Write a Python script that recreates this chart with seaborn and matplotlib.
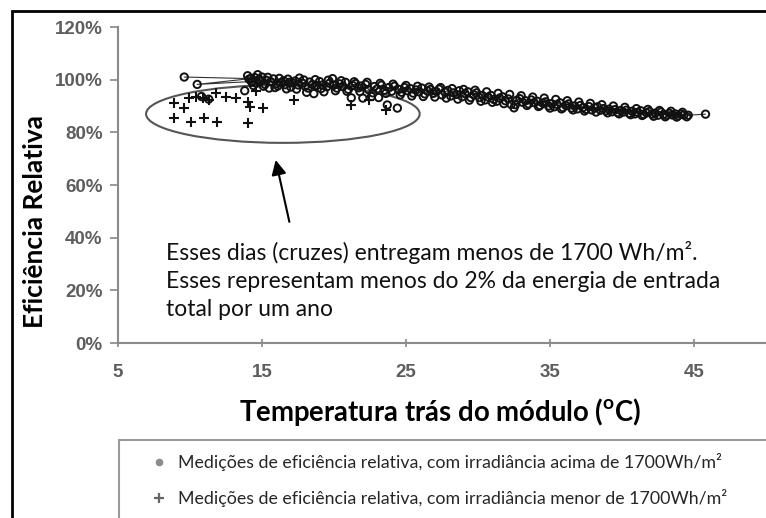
import matplotlib
matplotlib.use("Agg")
import matplotlib.pyplot as plt
from matplotlib.patches import Ellipse, Rectangle
from matplotlib.lines import Line2D
import seaborn as sns
import pandas as pd

# ---------------- data ----------------
# circles joined by the thin series line (in joining order)
temp_circ = [9.6, 14.2, 10.5, 14.3,
             14.0, 14.1, 14.3, 14.5, 14.6, 14.8, 14.9, 15.0, 15.2, 15.3,
             15.6, 15.8, 16.0, 16.1, 16.3, 16.5, 16.6, 16.8, 17.0,
             17.1, 17.3, 17.5, 17.6, 17.8, 18.0, 18.3, 18.5,
             18.8, 19.0, 19.2, 19.5, 19.7, 19.9, 20.0, 20.2, 20.4,
             20.6, 20.8, 21.0, 21.3, 21.5, 21.7, 21.9, 22.2,
             22.4, 22.8, 23.0, 23.3, 23.5, 23.8, 24.0,
             24.2, 24.5, 24.7, 24.9, 25.1, 25.3, 25.5, 25.7, 25.9,
             26.1, 26.3, 26.5, 26.7, 26.9, 27.1, 27.3, 27.5, 27.7, 27.9,
             28.1, 28.3, 28.5, 28.7, 28.9, 29.1, 29.3, 29.5, 29.7, 29.9,
             30.1, 30.3, 30.5, 30.7, 30.9, 31.1, 31.3, 31.5, 31.7, 31.9,
             32.1, 32.3, 32.7, 32.9, 33.1, 33.3, 33.5, 33.7, 33.9,
             34.1, 34.3, 34.5, 34.7, 34.9, 35.1, 35.3, 35.5, 35.7, 35.9,
             36.1, 36.3, 36.5, 36.7, 36.9, 37.1, 37.3, 37.5, 37.7, 37.9,
             38.1, 38.3, 38.5, 38.7, 38.9, 39.1, 39.3, 39.5, 39.7, 39.9,
             40.1, 40.3, 40.5, 40.7, 40.9, 41.1, 41.3, 41.5, 41.7, 41.9,
             42.1, 42.3, 42.5, 42.7, 42.9, 43.1, 43.3, 43.5, 43.7, 43.9,
             44.1, 44.3, 44.6, 45.8]
eff_circ = [101.0, 100.4, 98.2, 99.3,
            101.5, 100.2, 99.0, 100.8, 98.6, 100.1, 99.4, 101.0, 98.2, 99.8,
            99.2, 100.3, 98.5, 97.6, 98.9, 99.6, 98.1, 100.2, 97.2,
            98.8, 99.5, 98.0, 100.6, 98.7, 97.5, 99.1, 98.2,
            97.8, 99.3, 98.0, 97.3, 98.7, 100.4, 97.9, 96.8, 98.4,
            97.4, 99.0, 96.3, 97.8, 98.5, 96.9, 97.6, 98.2,
            96.2, 97.4, 96.5, 97.9, 96.0, 97.0, 95.6,
            97.5, 96.3, 95.2, 97.0, 95.8, 96.6, 94.9, 96.1, 95.4,
            96.8, 94.6, 95.7, 96.3, 94.8, 95.5, 96.4, 94.2, 95.3, 95.9,
            93.8, 95.0, 94.4, 95.8, 93.5, 94.7, 95.4, 93.2, 94.3, 95.0,
            93.2, 94.0, 92.3, 93.4, 94.0, 92.5, 91.8, 93.0, 93.5, 92.0,
            92.7, 90.6, 92.2, 92.8, 91.4, 92.0, 90.8, 92.3, 91.3,
            91.8, 90.2, 91.1, 91.6, 90.0, 90.9, 89.7, 90.6, 91.2, 89.4,
            90.2, 90.8, 89.2, 90.0, 88.9, 90.2, 89.4, 88.7, 89.8, 88.5,
            89.3, 89.7, 88.4, 89.0, 88.2, 88.8, 87.8, 88.6, 87.5, 88.3,
            87.7, 88.4, 87.2, 88.0, 87.0, 87.6, 88.2, 86.8, 87.4, 87.9,
            86.9, 87.3, 86.5, 87.7, 86.9, 86.4, 87.2, 86.6, 87.0, 86.3,
            86.9, 86.6, 86.5, 86.9]

# further circles (not on the joining line): low outliers and band fill
temp_circ_extra = [10.8, 11.3, 13.8, 15.5, 18.1, 18.6, 19.3, 21.2, 22.0, 22.6,
                   23.1, 23.7, 24.4, 32.5,
                   14.4, 14.7, 15.1, 15.4, 15.9, 16.2, 16.7, 16.9, 17.4, 17.9,
                   18.2, 18.7, 19.1, 19.6, 20.1, 20.5, 20.9, 21.4, 21.8, 22.3,
                   22.7, 23.2, 23.6, 24.1, 24.6, 25.0, 25.4, 25.8, 26.2, 26.6,
                   27.0, 27.4, 27.8, 28.2, 28.6, 29.0, 29.4, 29.8, 30.2, 30.6,
                   31.0, 31.4, 31.8, 32.2, 32.6, 33.0, 33.4, 33.8, 34.2, 34.6,
                   35.0, 35.4, 35.8, 36.2, 36.6, 37.0, 37.4, 37.8, 38.2, 38.6,
                   39.0, 39.4, 39.8, 40.2, 40.6, 41.0, 41.4, 41.8, 42.2, 42.6,
                   43.0, 43.4, 43.8, 44.2, 44.5]
eff_circ_extra = [93.6, 92.6, 95.8, 96.8, 95.2, 94.7, 95.4, 93.1, 93.0, 93.6,
                  93.2, 90.4, 89.2, 89.3,
                  97.8, 101.9, 97.5, 100.9, 97.0, 100.5, 96.5, 99.0, 96.4, 99.9,
                  96.8, 100.0, 96.6, 99.8, 95.8, 99.6, 95.6, 99.2, 95.5, 99.0,
                  95.0, 98.6, 94.8, 98.3, 94.2, 97.8, 93.8, 97.5, 93.6, 97.2,
                  93.4, 97.0, 93.0, 96.6, 92.6, 96.3, 92.2, 96.0, 91.8, 95.4,
                  91.4, 94.8, 90.9, 94.4, 90.5, 93.9, 90.2, 93.4, 89.8, 93.0,
                  89.2, 92.5, 88.9, 92.0, 88.5, 91.5, 88.1, 91.0, 87.7, 90.5,
                  87.4, 90.0, 87.0, 89.5, 86.7, 89.0, 86.4, 88.7, 86.1, 88.3,
                  85.9, 88.0, 85.8, 87.6, 85.9]

# crosses: irradiance below 1700 Wh/m2
temp_cross = [8.9, 9.6, 9.9, 10.4, 10.9, 11.3, 11.8, 12.5, 13.2, 14.6,
              14.0, 14.2, 15.1, 8.9, 10.1, 11.0, 11.9, 14.0, 17.2, 21.2,
              22.4, 23.6]
eff_cross = [91.1, 89.2, 93.0, 93.4, 93.0, 92.3, 95.0, 93.4, 93.1, 95.6,
             91.5, 89.6, 89.2, 85.5, 83.9, 85.5, 83.9, 83.6, 92.3, 90.4,
             92.3, 88.5]

x_ticks = [5, 15, 25, 35, 45]
y_ticks = [0, 20, 40, 60, 80, 100, 120]

label_above = "Medições de eficiência relativa, com irradiância acima de 1700Wh/m²"
label_below = "Medições de eficiência relativa, com irradiância menor de 1700Wh/m²"
note_text = ("Esses dias (cruzes) entregam menos de 1700 Wh/m².\n"
             "Esses representam menos do 2% da energia de entrada\n"
             "total por um ano")
xlabel = r"Temperatura trás do módulo ($^{\mathbf{o}}$C)"
ylabel = "Eficiência Relativa"

# ---------------- figure ----------------
sns.set_theme(style="white")
plt.rcParams["font.family"] = ["Lato", "DejaVu Sans"]
plt.rcParams["mathtext.fontset"] = "custom"
plt.rcParams["mathtext.rm"] = "Lato"
plt.rcParams["mathtext.bf"] = "Lato:bold"

W, H = 766, 518
fig = plt.figure(figsize=(W / 100, H / 100), dpi=100)
ax_l, ax_r, ax_t, ax_b = 118, 766, 27, 343
ax = fig.add_axes([ax_l / W, 1 - ax_b / H, (ax_r - ax_l) / W, (ax_b - ax_t) / H])

df_c = pd.DataFrame({"temp": temp_circ, "eff": eff_circ})
df_ce = pd.DataFrame({"temp": temp_circ_extra, "eff": eff_circ_extra})
df_x = pd.DataFrame({"temp": temp_cross, "eff": eff_cross})

# thin series line joining the circle points
sns.lineplot(data=df_c, x="temp", y="eff", sort=False, estimator=None,
             color="#333333", lw=0.8, ax=ax, zorder=2)
for d in (df_c, df_ce):
    sns.scatterplot(data=d, x="temp", y="eff", marker="o", s=28,
                    facecolor="none", edgecolor="#111111", linewidth=1.4,
                    ax=ax, zorder=3)
sns.scatterplot(data=df_x, x="temp", y="eff", marker="+", s=55,
                color="#111111", linewidth=1.5, ax=ax, zorder=3)

ax.set_xlim(5, 50)
ax.set_ylim(0, 120)
ax.set_xticks(x_ticks)
ax.set_yticks(y_ticks)
ax.set_yticklabels([f"{v}%" for v in y_ticks])
for lab in ax.get_xticklabels() + ax.get_yticklabels():
    lab.set_family("Liberation Sans")
    lab.set_fontweight("bold")
    lab.set_color("#5e5e5e")
    lab.set_fontsize(13.5)
ax.tick_params(axis="y", direction="out", length=6, width=1.2, color="#888888",
               left=True, pad=5)
ax.tick_params(axis="x", direction="inout", length=6, width=1.2, color="#888888",
               bottom=True, pad=12)
for s in ["top", "right"]:
    ax.spines[s].set_visible(False)
for s in ["left", "bottom"]:
    ax.spines[s].set_color("#8a8a8a")
    ax.spines[s].set_linewidth(1.5)
ax.patch.set_alpha(0)

ax.set_xlabel(xlabel, fontsize=19.8, fontweight="bold", color="black")
ax.set_ylabel(ylabel, fontsize=19, fontweight="bold", color="black")
ax.xaxis.set_label_coords((440 - ax_l) / (ax_r - ax_l), (ax_b - 396) / (ax_b - ax_t))
ax.yaxis.set_label_coords((47 - ax_l) / (ax_r - ax_l), (ax_b - 222) / (ax_b - ax_t))

# ellipse around the low-irradiance days and arrow
ax.add_patch(Ellipse((16.45, 87.0), 19.0, 22.0, fill=False, edgecolor="#555555",
                     lw=1.5, zorder=1))
ax.annotate("", xy=(15.95, 69.5), xytext=(16.9, 46.0),
            arrowprops=dict(arrowstyle="-|>", color="black", lw=1.5,
                            mutation_scale=22, shrinkA=0, shrinkB=0))
ax.text(8.33, 23.6, note_text, fontsize=16.5, color="#111111", va="center",
        ha="left", linespacing=1.42)

# figure border and legend box
fig.patches.append(Rectangle((12 / W, -0.2), 1.5, 1.2 - 11 / H,
                             transform=fig.transFigure, fill=False,
                             edgecolor="black", lw=2))
fig.patches.append(Rectangle((119 / W, -0.2), 1.5, 0.2 + (1 - 440 / H),
                             transform=fig.transFigure, fill=False,
                             edgecolor="#9a9a9a", lw=1.5))

handles = [Line2D([], [], marker="o", ls="none", color="#8c8c8c", markersize=4.5),
           Line2D([], [], marker="+", ls="none", color="#666666", markersize=7,
                  markeredgewidth=1.6)]
fig.legend(handles, [label_above, label_below], loc="upper left",
           bbox_to_anchor=(150 / W, 1 - 453 / H), frameon=False,
           fontsize=12.8, handlelength=1.0, handletextpad=0.6, labelspacing=1.0,
           borderpad=0, borderaxespad=0)

fig.savefig("out.png", dpi=100)
